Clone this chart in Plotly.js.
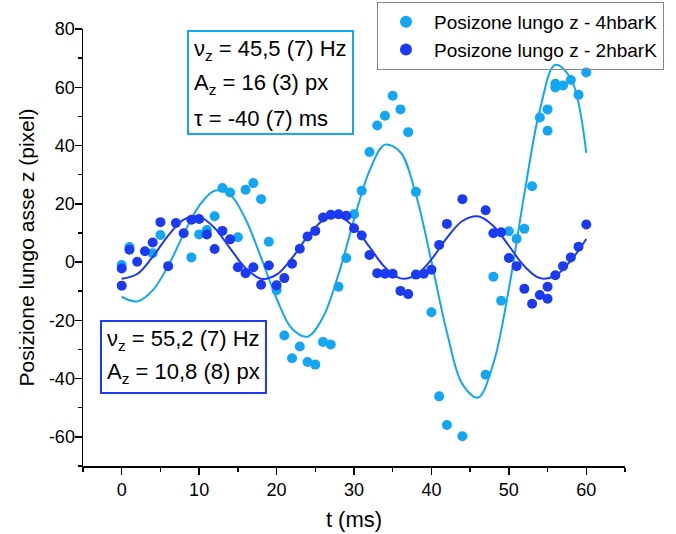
<!DOCTYPE html>
<html>
<head>
<meta charset="utf-8">
<script src="https://cdn.plot.ly/plotly-3.0.1.min.js"></script>
<style>html,body{margin:0;padding:0;background:#fff;}#chart{width:676px;height:534px;}</style>
</head>
<body>
<div id="chart"></div>
<script>
// Data
const tLight = [0,1,4,5,9,10,11,12,13,14,15,16,17,18,19,20,21,22,23,24,25,26,27,28,29,30,31,32,33,34,35,36,37,38,40,41,42,44,47,48,49,50,51,52,53,54,55,55,56,56,57,58,59,60];
const zLight = [-1.0,5.2,3.0,9.3,1.6,9.5,11.0,15.7,25.4,23.9,8.5,24.8,27.1,21.6,7.0,-9.7,-25.2,-33.0,-29.0,-34.3,-35.2,-27.4,-28.3,-8.5,1.4,16.4,24.5,37.8,46.9,50.2,57.1,52.4,44.6,24.1,-17.2,-46.1,-55.9,-59.8,-38.7,-5.0,-13.3,10.6,8.0,11.4,26.0,49.6,52.4,45.1,61.2,59.9,60.6,62.5,57.4,65.1];

const tDark = [0,0,1,2,3,4,5,6,7,8,9,10,11,12,13,14,15,16,17,18,19,20,21,22,23,24,25,26,27,28,29,30,31,32,33,34,35,36,37,38,39,40,41,42,44,47,48,49,50,51,52,53,54,55,55,56,57,58,59,60];
const zDark = [-2.2,-8.1,4.2,0.1,3.7,6.7,13.7,-1.4,13.4,9.9,14.5,14.8,9.5,4.5,10.7,7.8,-1.8,-3.8,-1.8,-7.8,-1.2,-8.0,-5.5,-0.6,4.6,8.8,10.7,15.3,16.2,16.4,15.9,11.6,9.1,2.4,-3.8,-4.0,-4.0,-9.9,-11.0,-4.3,-4.0,-2.6,5.9,13.1,21.6,17.8,9.9,10.2,1.4,-1.4,-9.2,-14.3,-11.3,-8.5,-12.6,-4.5,-1.4,1.6,5.3,12.9];

// Fit curves, values
const tFit = [0,2,4,6,8,10,12,14,16,18,20,22,24,26,28,30,32,34,36,38,40,42,44,46,48,50,52,54,56,58,60];
const fitLight = [-11.9,-13.5,-9.7,-1.3,9.6,19.3,24.5,23.1,14.7,1.5,-12.5,-22.9,-25.6,-18.9,-4.2,14.5,31.3,40.3,37.7,23.1,0.2,-24.1,-41.9,-46.5,-34.8,-9.2,23.3,52.2,67.7,63.0,37.5];
const fitDark = [-5.7,-4.1,1.8,9.1,14.6,15.6,11.7,4.7,-2.1,-5.7,-4.3,1.4,8.7,14.3,15.7,12.0,5.2,-1.8,-5.6,-4.5,0.9,8.3,14.1,15.7,12.4,5.6,-1.4,-5.5,-4.7,0.5,7.9];

const yTickVals = [-60,-40,-20,0,20,40,60,80];
const yTickText = ['-60','-40','-20','0','20','40','60','80'];

const seriesNames = ['Posizone lungo z - 4hbarK','Posizone lungo z - 2hbarK'];
const colLight = '#12A6F4';
const colDark = '#1C3AF4';

const FONT = 'Liberation Sans, Arial, Helvetica, sans-serif';

const traces = [
  {x: tLight, y: zLight, type: 'scatter', mode: 'markers', name: seriesNames[0],
   marker: {color: colLight, size: 10}},
  {x: tFit, y: fitLight, type: 'scatter', mode: 'lines', showlegend: false, hoverinfo: 'skip',
   line: {color: colLight, width: 2, shape: 'spline', smoothing: 1}},
  {x: tDark, y: zDark, type: 'scatter', mode: 'markers', name: seriesNames[1],
   marker: {color: colDark, size: 10}},
  {x: tFit, y: fitDark, type: 'scatter', mode: 'lines', showlegend: false, hoverinfo: 'skip',
   line: {color: colDark, width: 2, shape: 'spline', smoothing: 1}}
];

const layout = {
  width: 676, height: 534,
  margin: {l: 83, r: 51, t: 29, b: 68, autoexpand: false},
  paper_bgcolor: '#fff', plot_bgcolor: '#fff',
  font: {family: FONT, color: '#000', size: 18},
  showlegend: true,
  legend: {x: 0.5424, y: 1.0618, xanchor: 'left', yanchor: 'top',
           bordercolor: '#888', borderwidth: 1, bgcolor: 'rgba(255,255,255,0)', itemwidth: 46,
           font: {family: FONT, size: 19, color: '#000'}, itemsizing: 'constant',
           tracegroupgap: 0},
  xaxis: {
    range: [-5, 65], tickmode: 'linear', tick0: 0, dtick: 10,
    showgrid: false, zeroline: false, showline: true, linecolor: '#000', linewidth: 1.5,
    ticks: 'outside', ticklen: 7, tickwidth: 1.5, tickcolor: '#000',
    minor: {tickmode: 'linear', tick0: -5, dtick: 5, ticks: 'outside', ticklen: 4, tickwidth: 1.5, tickcolor: '#000'},
    tickfont: {family: FONT, size: 18},
    title: {text: 't (ms)', font: {family: FONT, size: 22}, standoff: 12}
  },
  yaxis: {
    range: [-70, 80], tickmode: 'array', tickvals: yTickVals, ticktext: yTickText,
    showgrid: false, zeroline: false, showline: true, linecolor: '#000', linewidth: 1.5,
    ticks: 'outside', ticklen: 7, tickwidth: 1.5, tickcolor: '#000', ticklabelstandoff: -4,
    minor: {tickmode: 'linear', tick0: -70, dtick: 10, ticks: 'outside', ticklen: 4, tickwidth: 1.5, tickcolor: '#000'},
    tickfont: {family: FONT, size: 18},
    title: {text: 'Posizione lungo asse z (pixel)', font: {family: FONT, size: 21}, standoff: 8}
  },
  shapes: [
    {type: 'rect', xref: 'paper', yref: 'paper', x0: 0.1937, x1: 0.4982, y0: 0.7597, y1: 0.9954,
     line: {color: colLight, width: 2}, fillcolor: 'rgba(0,0,0,0)'},
    {type: 'rect', xref: 'paper', yref: 'paper', x0: 0.0332, x1: 0.3376, y0: 0.167, y1: 0.3318,
     line: {color: colDark, width: 2}, fillcolor: 'rgba(0,0,0,0)'}
  ],
  annotations: [
    {xref: 'paper', yref: 'paper', x: 0.2011, y: 0.952, xanchor: 'left', yanchor: 'middle', showarrow: false,
     text: 'ν<sub>z</sub> = 45,5 (7) Hz', font: {family: FONT, size: 22}},
    {xref: 'paper', yref: 'paper', x: 0.2011, y: 0.874, xanchor: 'left', yanchor: 'middle', showarrow: false,
     text: 'A<sub>z</sub> = 16 (3) px', font: {family: FONT, size: 22}},
    {xref: 'paper', yref: 'paper', x: 0.2011, y: 0.796, xanchor: 'left', yanchor: 'middle', showarrow: false,
     text: 'τ = -40 (7) ms', font: {family: FONT, size: 22}},
    {xref: 'paper', yref: 'paper', x: 0.0406, y: 0.2883, xanchor: 'left', yanchor: 'middle', showarrow: false,
     text: 'ν<sub>z</sub> = 55,2 (7) Hz', font: {family: FONT, size: 22}},
    {xref: 'paper', yref: 'paper', x: 0.0406, y: 0.2128, xanchor: 'left', yanchor: 'middle', showarrow: false,
     text: 'A<sub>z</sub> = 10,8 (8) px', font: {family: FONT, size: 22}}
  ]
};

Plotly.newPlot('chart', traces, layout, {displayModeBar: false, staticPlot: true});
</script>
</body>
</html>
